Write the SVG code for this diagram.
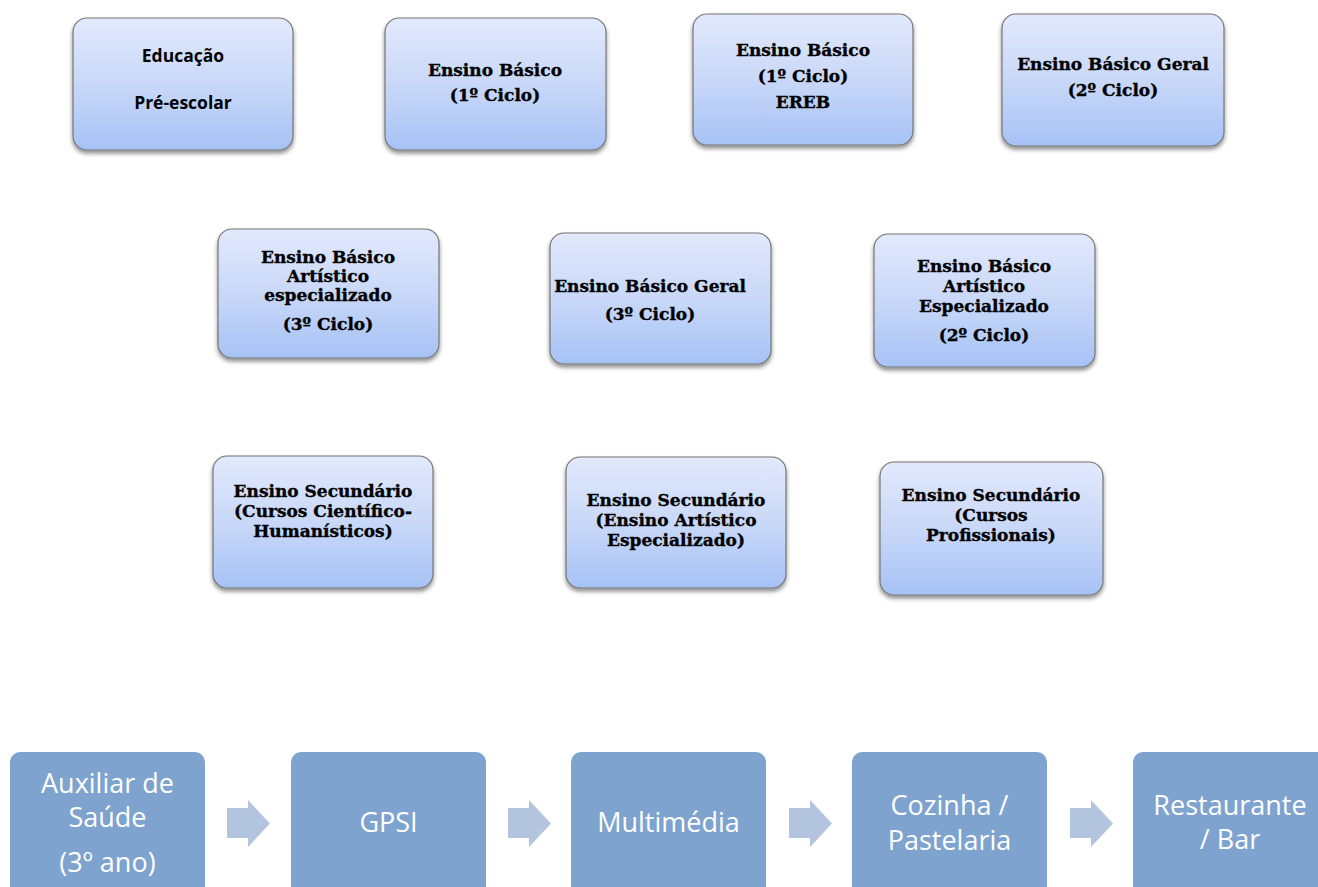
<svg xmlns="http://www.w3.org/2000/svg" width="1318" height="887" viewBox="0 0 1318 887">
<defs>
<linearGradient id="g" x1="0" y1="0" x2="0" y2="1">
<stop offset="0" stop-color="#e2e9fc"/>
<stop offset="0.5" stop-color="#c9d8f8"/>
<stop offset="1" stop-color="#a6c2f5"/>
</linearGradient>
<filter id="sh" x="-10%" y="-10%" width="120%" height="130%">
<feDropShadow dx="0" dy="3" stdDeviation="2.2" flood-color="#000" flood-opacity="0.45"/>
</filter>
<style>
.top{fill:url(#g);stroke:#767676;stroke-width:1.2;filter:url(#sh)}
.t{font-family:"DejaVu Serif",serif;font-weight:bold;font-size:17px;fill:#000;stroke:#000;stroke-width:0.35;text-anchor:middle}
.ts{font-family:"Open Sans","Liberation Sans",sans-serif;font-weight:bold;font-size:17.5px;fill:#000;text-anchor:middle}
.bot{fill:#7ea3cf}
.bt{font-family:"Open Sans","Liberation Sans",sans-serif;font-size:27px;fill:#fff;text-anchor:middle}
.arr{fill:#b3c4de}
</style>
</defs>
<rect width="1318" height="887" fill="#fff"/>

<g id="n1"><rect class="top" x="73" y="18" width="220" height="132" rx="14"/>
<text class="ts" x="183" y="62">Educação</text><text class="ts" x="183" y="109">Pré-escolar</text></g>
<g id="n2"><rect class="top" x="385" y="18" width="221" height="132" rx="14"/>
<text class="t" x="495" y="76">Ensino Básico</text><text class="t" x="495" y="101">(1º Ciclo)</text></g>
<g id="n3"><rect class="top" x="693" y="14" width="220" height="131" rx="14"/>
<text class="t" x="803" y="56">Ensino Básico</text><text class="t" x="803" y="82">(1º Ciclo)</text><text class="t" x="803" y="108">EREB</text></g>
<g id="n4"><rect class="top" x="1002" y="14" width="222" height="132" rx="14"/>
<text class="t" x="1113" y="70">Ensino Básico Geral</text><text class="t" x="1113" y="96">(2º Ciclo)</text></g>

<g id="n5"><rect class="top" x="218" y="229" width="221" height="129" rx="14"/>
<text class="t" x="328" y="263">Ensino Básico</text><text class="t" x="328" y="282">Artístico</text><text class="t" x="328" y="301">especializado</text><text class="t" x="328" y="330">(3º Ciclo)</text></g>
<g id="n6"><rect class="top" x="550" y="233" width="221" height="131" rx="14"/>
<text class="t" x="650" y="292">Ensino Básico Geral</text><text class="t" x="650" y="320">(3º Ciclo)</text></g>
<g id="n7"><rect class="top" x="874" y="234" width="221" height="133" rx="14"/>
<text class="t" x="984" y="272">Ensino Básico</text><text class="t" x="984" y="292">Artístico</text><text class="t" x="984" y="312">Especializado</text><text class="t" x="984" y="341">(2º Ciclo)</text></g>

<g id="n8"><rect class="top" x="213" y="456" width="220" height="132" rx="14"/>
<text class="t" x="323" y="497">Ensino Secundário</text><text class="t" x="323" y="517">(Cursos Científico-</text><text class="t" x="323" y="537">Humanísticos)</text></g>
<g id="n9"><rect class="top" x="566" y="457" width="220" height="131" rx="14"/>
<text class="t" x="676" y="506">Ensino Secundário</text><text class="t" x="676" y="526">(Ensino Artístico</text><text class="t" x="676" y="546">Especializado)</text></g>
<g id="n10"><rect class="top" x="880" y="462" width="223" height="133" rx="14"/>
<text class="t" x="991" y="501">Ensino Secundário</text><text class="t" x="991" y="521">(Cursos</text><text class="t" x="991" y="541">Profissionais)</text></g>

<g id="b1"><rect class="bot" x="10" y="752" width="195" height="145" rx="10"/>
<text class="bt" x="107.5" y="793">Auxiliar de</text><text class="bt" x="107.5" y="827">Saúde</text><text class="bt" x="107.5" y="872">(3º ano)</text></g>
<g id="b2"><rect class="bot" x="291" y="752" width="195" height="145" rx="10"/>
<text class="bt" x="388.5" y="832">GPSI</text></g>
<g id="b3"><rect class="bot" x="571" y="752" width="195" height="145" rx="10"/>
<text class="bt" x="668.5" y="832">Multimédia</text></g>
<g id="b4"><rect class="bot" x="852" y="752" width="195" height="145" rx="10"/>
<text class="bt" x="949.5" y="815">Cozinha /</text><text class="bt" x="949.5" y="850">Pastelaria</text></g>
<g id="b5"><rect class="bot" x="1133" y="752" width="195" height="145" rx="10"/>
<text class="bt" x="1230" y="815">Restaurante</text><text class="bt" x="1230" y="849">/ Bar</text></g>

<g id="connectors">
<polygon class="arr" points="227,808 248,808 248,800 270,823.5 248,847 248,838 227,838"/>
<polygon class="arr" points="508,808 529,808 529,800 551,823.5 529,847 529,838 508,838"/>
<polygon class="arr" points="789,808 810,808 810,800 832,823.5 810,847 810,838 789,838"/>
<polygon class="arr" points="1070,808 1091,808 1091,800 1113,823.5 1091,847 1091,838 1070,838"/>
</g>
</svg>
